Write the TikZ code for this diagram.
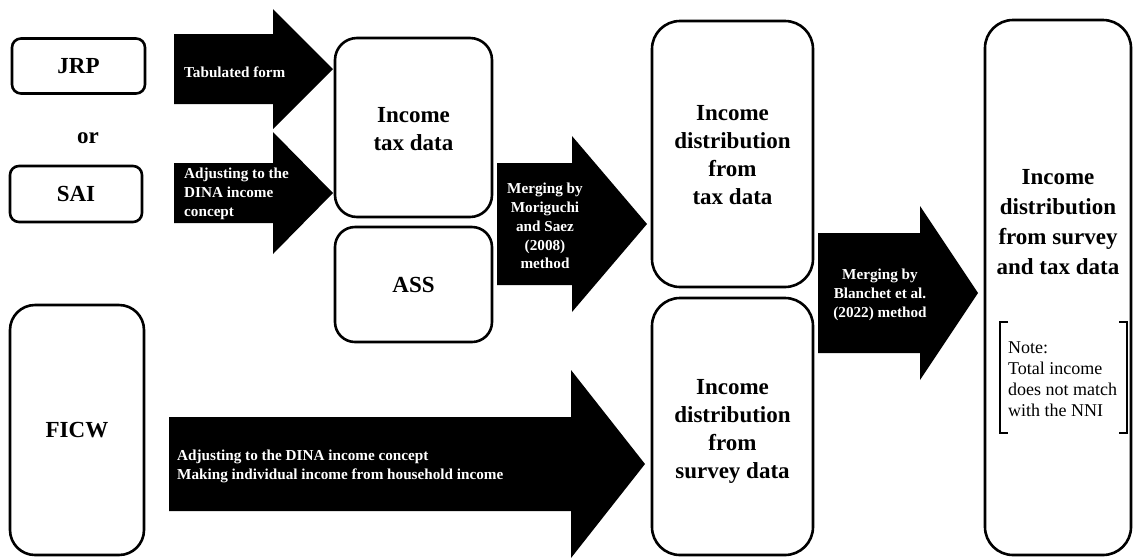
\documentclass[tikz,border=0pt]{standalone}
\usepackage{fontspec}
\setmainfont{Liberation Serif}
\begin{document}
\begin{tikzpicture}[x=1pt,y=-1pt,
  box/.style={draw=black,line width=2.6pt,fill=white,inner sep=0pt,align=center,
    font=\fontsize{23}{28}\selectfont\bfseries},
  title/.style={align=center,inner sep=0pt,font=\fontsize{23}{28}\selectfont\bfseries},
  arrowtext/.style={text=white,inner sep=0pt,font=\fontsize{15.2}{18.8}\selectfont\bfseries},
  blockarrow/.style={fill=black,draw=none},
  notetext/.style={align=left,inner sep=0pt,font=\fontsize{18}{21}\selectfont}]
\useasboundingbox (0,0) rectangle (1135,558);
% boxes
\node[box,rounded corners=9pt,minimum width=133pt,minimum height=55pt] (jrp) at (78.5,66) {JRP};
\node[title] (or) at (88,138) {or};
\node[box,rounded corners=9pt,minimum width=132pt,minimum height=56pt] (sai) at (76,194) {SAI};
\node[box,rounded corners=22pt,minimum width=157pt,minimum height=179pt] (itd) at (413.5,127.5) {};
\node[title] (itdtext) at (413.5,129.5) {Income\\tax data};
\node[box,rounded corners=20pt,minimum width=157pt,minimum height=115pt] (ass) at (413.5,284.5) {ASS};
\node[box,rounded corners=25pt,minimum width=134pt,minimum height=250pt] (ficw) at (77,430) {FICW};
\node[box,rounded corners=28pt,minimum width=161pt,minimum height=266pt] (dtax) at (732.5,154) {};
\node[title] (dtaxtext) at (732.5,155.5) {Income\\distribution\\from\\tax data};
\node[box,rounded corners=28pt,minimum width=161pt,minimum height=257pt] (dsur) at (732.5,426.5) {};
\node[title] (dsurtext) at (732.5,431.5) {Income\\distribution\\from\\survey data};
\node[draw=black,line width=2.6pt,rounded corners=28pt,minimum width=146pt,minimum height=535pt] (final) at (1058,287.5) {};
\node[title,font=\fontsize{23}{30}\selectfont\bfseries] (finaltitle) at (1058,222.5) {Income\\distribution\\from survey\\and tax data};
% note with brackets
\node[notetext,anchor=west] (note) at (1008,379) {Note:\\Total income\\does not match\\with the NNI};
\draw[line width=1.1pt] (1008,322) -- (1000,322) -- (1000,433) -- (1008,433);
\draw[line width=1.1pt] (1119,322) -- (1127,322) -- (1127,433) -- (1119,433);
% block arrows
\newcommand{\blkarrow}[6]{% x1, x2, xtip, yc, shaft half, head half
  \fill[blockarrow] (#1,#4-#5) -- (#2,#4-#5) -- (#2,#4-#6) -- (#3,#4) -- (#2,#4+#6) -- (#2,#4+#5) -- (#1,#4+#5) -- cycle;}
\blkarrow{174}{273}{333}{69}{35}{60}
\blkarrow{174}{273}{333}{193}{30}{61}
\blkarrow{497}{572}{647}{224}{61}{88}
\blkarrow{818}{920}{978}{293}{60}{87}
\blkarrow{169}{571}{645}{464}{47}{94}
% arrow texts
\node[arrowtext,anchor=west,align=left] (t1) at (184,72) {Tabulated form};
\node[arrowtext,anchor=west,align=left] (t2) at (184,194) {Adjusting to the\\DINA income\\concept};
\node[arrowtext,align=center] (t3) at (545,226) {Merging by\\Moriguchi\\and Saez\\(2008)\\method};
\node[arrowtext,align=center] (t4) at (880,295) {Merging by\\Blanchet et al.\\(2022) method};
\node[arrowtext,anchor=west,align=left] (t5) at (177,466) {Adjusting to the DINA income concept\\Making individual income from household income};
\end{tikzpicture}
\end{document}
